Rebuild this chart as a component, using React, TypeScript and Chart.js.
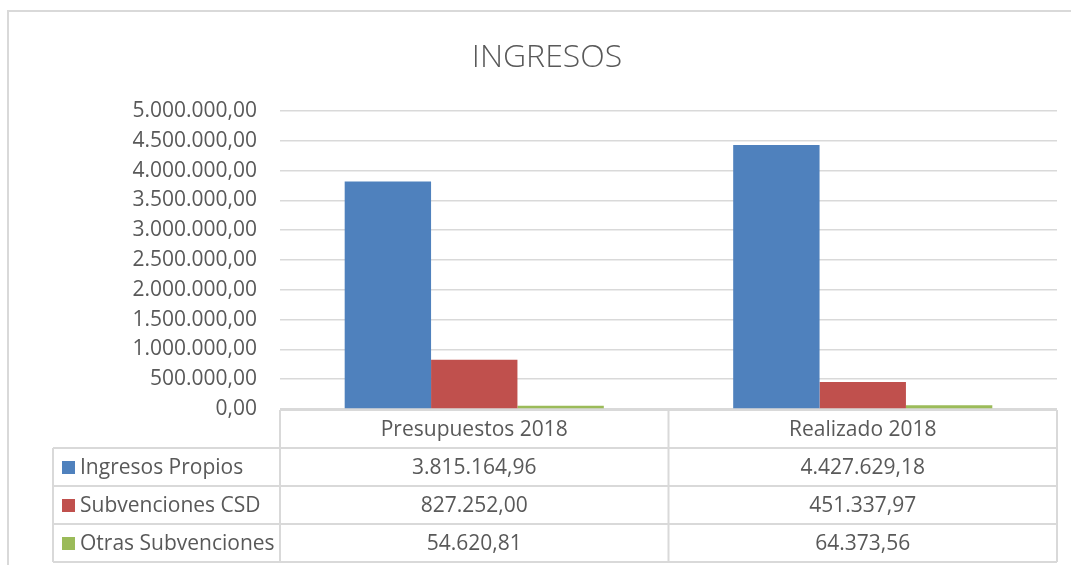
import React, { useEffect, useRef } from "react";
import { Chart, registerables } from "chart.js";

Chart.register(...registerables);

const categories = ["Presupuestos 2018", "Realizado 2018"];
const seriesNames = ["Ingresos Propios", "Subvenciones CSD", "Otras Subvenciones"];
const ingresosPropios = [3815164.96, 4427629.18];
const subvencionesCSD = [827252.0, 451337.97];
const otrasSubvenciones = [54620.81, 64373.56];
const seriesColors = ["#4F81BD", "#C0504D", "#9BBB59"];
const yMax = 5000000;
const yStep = 500000;

const FONT = "'Open Sans', 'Noto Sans', sans-serif";
const TEXT = "#595959";
const LINE = "#d9d9d9";

function fmt(v: number): string {
  const [i, d] = v.toFixed(2).split(".");
  const g = i.replace(/\B(?=(\d{3})+(?!\d))/g, ".");
  return g + "," + d;
}

const tablePlugin = {
  id: "dataTable",
  afterDraw(chart: any) {
    const ctx = chart.ctx as CanvasRenderingContext2D;
    const area = chart.chartArea;
    const xs = chart.scales.x;
    const n = categories.length;
    const half = (area.right - area.left) / n / 2;
    const top = area.bottom + 1;
    const rowH = 38;
    const legendLeft = 53;
    const series = chart.data.datasets;
    ctx.save();
    // title
    ctx.fillStyle = TEXT;
    ctx.font = `300 32px ${FONT}`;
    ctx.textAlign = "center";
    ctx.textBaseline = "middle";
    ctx.fillText("INGRESOS", 547, 58);

    // outer border
    ctx.strokeStyle = LINE;
    ctx.lineWidth = 2;
    ctx.beginPath();
    ctx.moveTo(8, 600);
    ctx.lineTo(8, 11);
    ctx.lineTo(1100, 11);
    ctx.stroke();

    // table grid
    ctx.lineWidth = 2;
    ctx.strokeStyle = LINE;
    const bottom = top + rowH * (series.length + 1);
    ctx.beginPath();
    ctx.moveTo(area.left, top);
    ctx.lineTo(area.right, top);
    for (let r = 1; r <= series.length + 1; r++) {
      const y = top + rowH * r;
      ctx.moveTo(legendLeft, y);
      ctx.lineTo(area.right, y);
    }
    ctx.moveTo(legendLeft, top + rowH);
    ctx.lineTo(legendLeft, bottom);
    for (let c = 0; c <= n; c++) {
      const x = area.left + c * half * 2;
      ctx.moveTo(x, top);
      ctx.lineTo(x, bottom);
    }
    ctx.stroke();

    // texts
    ctx.font = `21px ${FONT}`;
    ctx.fillStyle = TEXT;
    ctx.textAlign = "center";
    ctx.textBaseline = "middle";
    for (let c = 0; c < n; c++) {
      const cx = xs.getPixelForValue(c);
      ctx.fillText(categories[c], cx, top + rowH / 2 + 1);
      for (let s = 0; s < series.length; s++) {
        ctx.fillText(fmt(series[s].data[c]), cx, top + rowH * (s + 1) + rowH / 2 + 1);
      }
    }
    ctx.textAlign = "left";
    for (let s = 0; s < series.length; s++) {
      const cy = top + rowH * (s + 1) + rowH / 2;
      ctx.fillStyle = series[s].backgroundColor;
      ctx.fillRect(62, cy - 6, 13, 13);
      ctx.fillStyle = TEXT;
      ctx.fillText(series[s].label, 80, cy + 1);
    }
    ctx.restore();
  },
};

export default function App() {
  const ref = useRef<HTMLCanvasElement>(null);
  useEffect(() => {
    document.body.style.margin = "0";
    const chart = new Chart(ref.current!, {
      type: "bar",
      data: {
        labels: categories,
        datasets: [ingresosPropios, subvencionesCSD, otrasSubvenciones].map((d, i) => ({
          label: seriesNames[i],
          data: d,
          backgroundColor: seriesColors[i],
          borderWidth: 0,
          categoryPercentage: 0.667,
          barPercentage: 1,
        })),
      },
      options: {
        responsive: false,
        animation: false,
        events: [],
        layout: { padding: { top: 111, right: 14, bottom: 156, left: 0 } },
        plugins: { legend: { display: false }, title: { display: false }, tooltip: { enabled: false } },
        scales: {
          x: { display: false },
          y: {
            min: 0,
            max: yMax,
            afterFit(scale: any) {
              scale.width = 280;
            },
            border: { display: false },
            grid: { color: LINE, lineWidth: 1.5, drawTicks: false },
            ticks: {
              stepSize: yStep,
              padding: 23,
              color: TEXT,
              font: { family: FONT, size: 21 },
              callback: (v: any) => fmt(Number(v)),
            },
          },
        },
      },
      plugins: [tablePlugin],
    });
    return () => chart.destroy();
  }, []);
  return (
    <div style={{ width: 1071, height: 565 }}>
      <canvas ref={ref} width={1071} height={565} />
    </div>
  );
}
